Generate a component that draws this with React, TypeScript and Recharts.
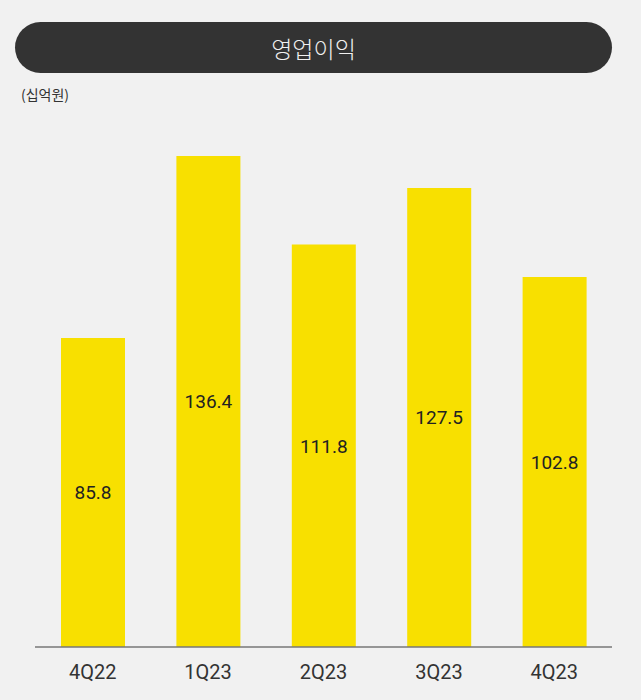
import { Bar, BarChart, LabelList, XAxis, YAxis } from "recharts";

const quarters = ["4Q22", "1Q23", "2Q23", "3Q23", "4Q23"];
const operatingProfit = [85.8, 136.4, 111.8, 127.5, 102.8];

const chartData = quarters.map((q, i) => ({ name: q, value: operatingProfit[i] }));

const FONT = '"Noto Sans CJK KR", "Noto Sans", sans-serif';
const NUM_FONT = 'Roboto, "Noto Sans", sans-serif';

export default function App() {
  return (
    <div
      style={{
        position: "fixed",
        left: 0,
        top: 0,
        width: 641,
        height: 700,
        background: "#f1f1f1",
        fontFamily: FONT,
      }}
    >
      <div
        style={{
          position: "absolute",
          left: 15,
          top: 22,
          width: 597,
          height: 51,
          borderRadius: 26,
          background: "#333333",
          color: "#f0f0f0",
          fontSize: 23,
          fontWeight: 300,
          display: "flex",
          alignItems: "center",
          justifyContent: "center",
        }}
      >
        영업이익
      </div>
      <div
        style={{
          position: "absolute",
          left: 21,
          top: 84,
          fontSize: 14,
          color: "#333",
        }}
      >
        (십억원)
      </div>
      <div style={{ position: "absolute", left: 0, top: 0 }}>
        <BarChart
          width={641}
          height={700}
          data={chartData}
          margin={{ top: 107, right: 29, bottom: 23, left: 35 }}
        >
          <XAxis
            dataKey="name"
            height={30}
            tickLine={false}
            tickSize={0}
            tickMargin={18}
            axisLine={{ stroke: "#777", strokeWidth: 1.5 }}
            tick={{ fill: "#333", fontSize: 20, fontFamily: NUM_FONT }}
          />
          <YAxis hide domain={[0, 150]} />
          <Bar dataKey="value" fill="#f8e000" barSize={64} isAnimationActive={false}>
            <LabelList
              dataKey="value"
              position="center"
              fill="#222"
              fontSize={19}
              fontFamily={NUM_FONT}
            />
          </Bar>
        </BarChart>
      </div>
    </div>
  );
}
